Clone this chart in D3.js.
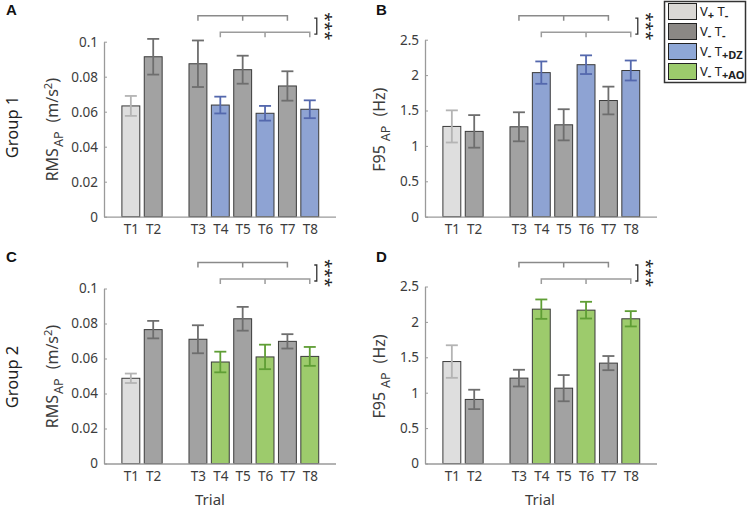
<!DOCTYPE html>
<html>
<head>
<meta charset="utf-8">
<script src="https://cdn.jsdelivr.net/npm/d3@7"></script>
<style>
  body { margin: 0; background: #fff; }
  svg { font-family: "Noto Sans", "Open Sans", sans-serif; }
</style>
</head>
<body>
<div id="chart"></div>
<script>
// trials and condition of each trial
var trials = ["T1", "T2", "T3", "T4", "T5", "T6", "T7", "T8"];
var condG1 = ["light", "gray", "gray", "dz", "gray", "dz", "gray", "dz"];
var condG2 = ["light", "gray", "gray", "ao", "gray", "ao", "gray", "ao"];

// group 1
var rmsG1 = [0.0633, 0.0914, 0.0874, 0.0638, 0.0840, 0.0591, 0.0747, 0.0614];
var rmsG1Err = [0.0057, 0.0102, 0.0133, 0.0048, 0.0080, 0.0042, 0.0084, 0.0051];
var f95G1 = [1.275, 1.205, 1.270, 2.035, 1.298, 2.147, 1.641, 2.065];
var f95G1Err = [0.227, 0.230, 0.205, 0.158, 0.220, 0.132, 0.196, 0.141];

// group 2
var rmsG2 = [0.0487, 0.0765, 0.0710, 0.0580, 0.0827, 0.0609, 0.0698, 0.0612];
var rmsG2Err = [0.0027, 0.0050, 0.0080, 0.0059, 0.0068, 0.0070, 0.0041, 0.0054];
var f95G2 = [1.440, 0.905, 1.206, 2.180, 1.064, 2.166, 1.418, 2.044];
var f95G2Err = [0.230, 0.137, 0.118, 0.137, 0.185, 0.118, 0.100, 0.108];

var rmsTicks = [0, 0.02, 0.04, 0.06, 0.08, 0.1];
var f95Ticks = [0, 0.5, 1, 1.5, 2, 2.5];

// significance brackets (from trial, to trial)
var brackets = [["T3", "T7"], ["T4", "T8"]];

var legendKeys = ["light", "gray", "dz", "ao"];

var fillCol = {light: "#dedede", gray: "#a2a2a2", dz: "#8ea3d3", ao: "#9dcb6c"};
var legendCol = {light: "#dad8d5", gray: "#8b8885", dz: "#8ea7d6", ao: "#9ccb6c"};
var errCol = {light: "#b4b4b4", gray: "#6e6e6e", dz: "#5468ad", ao: "#5f9e35"};

var svgWidth = 750;
var svgHeight = 508;

var svg = d3.select("#chart")
    .append("svg")
    .attr("width", svgWidth)
    .attr("height", svgHeight);

// slot index: a gap is left between T2 and T3
function slot(i) { return i + 1 + (i >= 2 ? 1 : 0); }

var panels = [
    {id: "A", vals: rmsG1, err: rmsG1Err, cond: condG1, ox: 104, lx: 6, y0: 216.7, h: 175, max: 0.1, ticks: rmsTicks, kind: "rms"},
    {id: "B", vals: f95G1, err: f95G1Err, cond: condG1, ox: 425, lx: 376, y0: 216.7, h: 177, max: 2.5, ticks: f95Ticks, kind: "f95"},
    {id: "C", vals: rmsG2, err: rmsG2Err, cond: condG2, ox: 104, lx: 6, y0: 463.5, h: 175, max: 0.1, ticks: rmsTicks, kind: "rms"},
    {id: "D", vals: f95G2, err: f95G2Err, cond: condG2, ox: 425, lx: 376, y0: 463.5, h: 177, max: 2.5, ticks: f95Ticks, kind: "f95"}
];

panels.forEach(function(p) {
    var x = d3.scaleLinear().domain([-0.2, 10.15]).range([p.ox, p.ox + 231.5]);
    var y = d3.scaleLinear().domain([0, p.max]).range([p.y0, p.y0 - p.h]);
    var bw = x(0.8) - x(0);
    var g = svg.append("g");

    // bars
    g.selectAll("rect.bar")
        .data(p.vals)
        .enter()
        .append("rect")
        .attr("x", (d, i) => x(slot(i)) - bw / 2)
        .attr("y", d => y(d))
        .attr("width", bw)
        .attr("height", d => y(0) - y(d))
        .attr("fill", (d, i) => fillCol[p.cond[i]])
        .attr("stroke", "#3a3a3a")
        .attr("stroke-width", 1);

    // error bars
    var eb = g.selectAll("g.err")
        .data(p.vals)
        .enter()
        .append("g")
        .attr("stroke", (d, i) => errCol[p.cond[i]])
        .attr("stroke-width", 1.8);
    eb.append("line")
        .attr("x1", (d, i) => x(slot(i)))
        .attr("x2", (d, i) => x(slot(i)))
        .attr("y1", (d, i) => y(d + p.err[i]))
        .attr("y2", (d, i) => y(d - p.err[i]));
    eb.append("line")
        .attr("x1", (d, i) => x(slot(i)) - 6)
        .attr("x2", (d, i) => x(slot(i)) + 6)
        .attr("y1", (d, i) => y(d + p.err[i]))
        .attr("y2", (d, i) => y(d + p.err[i]));
    eb.append("line")
        .attr("x1", (d, i) => x(slot(i)) - 6)
        .attr("x2", (d, i) => x(slot(i)) + 6)
        .attr("y1", (d, i) => y(d - p.err[i]))
        .attr("y2", (d, i) => y(d - p.err[i]));

    // axes
    var leftAxis = d3.axisLeft(y).tickValues(p.ticks).tickFormat(d => d)
        .tickSizeInner(-3).tickSizeOuter(0).tickPadding(6);
    var ya = g.append("g").attr("transform", `translate(${p.ox},0)`).call(leftAxis);

    var bottomAxis = d3.axisBottom(x).tickValues(trials.map((t, i) => slot(i)))
        .tickFormat((d, i) => trials[i]).tickSize(0).tickPadding(8);
    var xa = g.append("g").attr("transform", `translate(0,${p.y0})`).call(bottomAxis);

    [ya, xa].forEach(function(a) {
        a.select(".domain").attr("stroke", "#9a9a9a").attr("stroke-width", 1.3);
        a.selectAll(".tick line").attr("stroke", "#9a9a9a");
        a.selectAll(".tick text").attr("fill", "#3c3c3c").style("font-size", "13.5px")
            .style("font-family", "'Noto Sans', sans-serif");
    });

    // significance brackets
    brackets.forEach(function(b, k) {
        var a = slot(trials.indexOf(b[0]));
        var c = slot(trials.indexOf(b[1]));
        var by = p.y0 - 201 + k * 16.6;
        var path = d3.path();
        path.moveTo(x(a), by + 5); path.lineTo(x(a), by); path.lineTo(x(c), by); path.lineTo(x(c), by + 5);
        path.moveTo(x((a + c) / 2), by); path.lineTo(x((a + c) / 2), by + 5);
        g.append("path").attr("d", path.toString())
            .attr("fill", "none").attr("stroke", k == 0 ? "#8a8a8a" : "#9c9c9c").attr("stroke-width", 1.5);
    });
    var sx = x(slot(7)) + 7;
    var sy = p.y0 - 198.5;
    g.append("path")
        .attr("d", `M${sx - 2.5},${sy}H${sx}V${sy + 16}H${sx - 2.5}`)
        .attr("fill", "none").attr("stroke", "#333").attr("stroke-width", 1.3);
    g.append("text")
        .attr("transform", `translate(${sx + 3},${sy + 8}) rotate(90)`)
        .attr("text-anchor", "middle")
        .attr("fill", "#222")
        .style("font-size", "17px")
        .text("***");

    // panel letter
    svg.append("text")
        .attr("x", p.lx)
        .attr("y", p.y0 - 201.5)
        .attr("fill", "#111")
        .style("font-size", "15px")
        .style("font-weight", "bold")
        .style("font-family", "'Liberation Sans', Arial, sans-serif")
        .text(p.id);

    // y axis label
    var yl = svg.append("text")
        .attr("transform", `translate(${p.kind == "rms" ? p.ox - 46 : p.ox - 40},${p.y0 - 87}) rotate(-90)`)
        .attr("text-anchor", "middle")
        .attr("fill", "#3c3c3c")
        .style("font-size", "16px");
    if (p.kind == "rms") {
        yl.append("tspan").text("RMS");
        yl.append("tspan").attr("dy", 5).attr("dx", 1).style("font-size", "12.5px").text("AP");
        yl.append("tspan").attr("dy", -5).attr("dx", 9).text("(m/s");
        yl.append("tspan").attr("dy", -6).style("font-size", "11px").text("2");
        yl.append("tspan").attr("dy", 6).text(")");
    } else {
        yl.append("tspan").text("F95");
        yl.append("tspan").attr("dy", 5).attr("dx", 4).style("font-size", "12.5px").text("AP");
        yl.append("tspan").attr("dy", -5).attr("dx", 9).text("(Hz)");
    }
});

// group labels
["Group 1", "Group 2"].forEach(function(t, i) {
    svg.append("text")
        .attr("transform", `translate(18,${[127, 377][i]}) rotate(-90)`)
        .attr("text-anchor", "middle")
        .attr("fill", "#222")
        .style("font-size", "16.5px")
        .text(t);
});

// x axis titles
[210, 540].forEach(function(cx) {
    svg.append("text")
        .attr("x", cx)
        .attr("y", 505)
        .attr("text-anchor", "middle")
        .attr("fill", "#3c3c3c")
        .style("font-size", "15px")
        .text("Trial");
});

// legend
var leg = svg.append("g");
leg.append("rect")
    .attr("x", 664.5).attr("y", 1.5).attr("width", 81).attr("height", 81)
    .attr("fill", "#fff").attr("stroke", "#333").attr("stroke-width", 1.5);
var legText = [
    [["V", 0], ["+", 1], [" T", 0], ["-", 1]],
    [["V", 0], ["-", 1], [" T", 0], ["-", 1]],
    [["V", 0], ["-", 1], [" T", 0], ["+DZ", 1]],
    [["V", 0], ["-", 1], [" T", 0], ["+AO", 1]]
];
legendKeys.forEach(function(k, i) {
    leg.append("rect")
        .attr("x", 668.5).attr("y", 3.5 + i * 20).attr("width", 28).attr("height", 16)
        .attr("fill", legendCol[k]).attr("stroke", "#222").attr("stroke-width", 1);
    var t = leg.append("text")
        .attr("x", 700).attr("y", 15.5 + i * 20)
        .attr("fill", "#222")
        .style("font-size", "13px")
        .attr("xml:space", "preserve");
    var sub = 0;
    legText[i].forEach(function(part) {
        var ts = t.append("tspan").text(part[0]);
        if (part[1] && !sub) { ts.attr("dy", 3).style("font-size", "11px").style("font-weight", "bold"); sub = 1; }
        else if (!part[1] && sub) { ts.attr("dy", -3); sub = 0; }
        else if (part[1]) { ts.style("font-size", "11px").style("font-weight", "bold"); }
    });
});
</script>
</body>
</html>
